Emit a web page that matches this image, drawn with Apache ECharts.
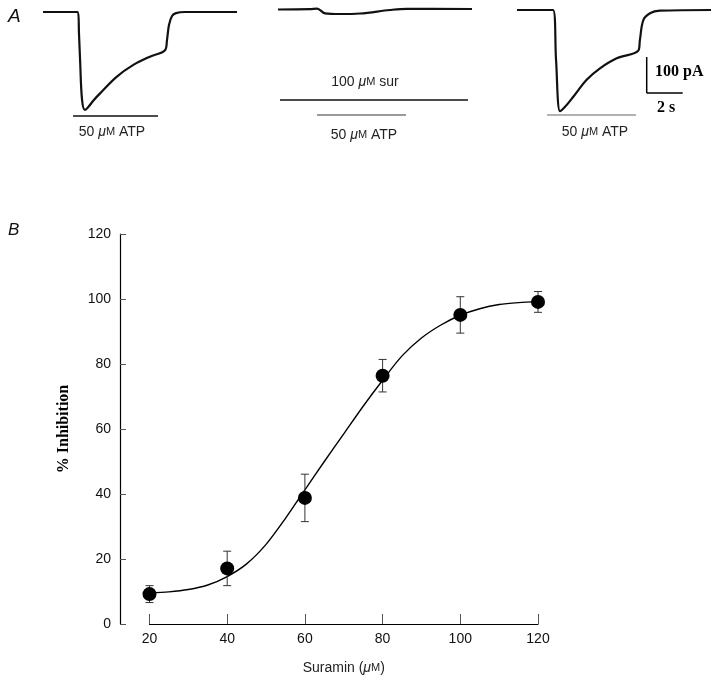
<!DOCTYPE html>
<html><head><meta charset="utf-8">
<script src="https://cdn.jsdelivr.net/npm/echarts@6/dist/echarts.min.js"></script>
<style>html,body{margin:0;padding:0;background:#fff}#c{width:720px;height:687px}</style>
</head><body><div id="c"></div>
<script>
// ---------- Panel A: current traces (time in s, current in pA) ----------
const trace1Time    = [0, 1.94, 2.0, 2.06, 2.17, 2.33, 2.55, 2.78, 3.17, 4.09, 5.02, 5.94, 6.78, 6.89, 7.0, 7.17, 7.39, 7.89, 10.78];
const trace1Current = [0, 0, -60, -133, -244, -272, -262, -247, -226, -180, -147, -124, -106, -78, -36, -11, -3, 0, 0];
const trace2Time    = [0, 1.78, 2.17, 2.61, 3.44, 4.56, 6.22, 7.17, 10.78];
const trace2Current = [0, 1.0, 2.5, -10.6, -12.5, -11.1, -1.4, 2.0, 1.4];
const trace3Time    = [0, 2.0, 2.17, 2.39, 2.67, 3.13, 3.87, 4.61, 5.54, 6.74, 6.83, 7.02, 7.39, 7.94, 10.78];
const trace3Current = [0, 0, -139, -281, -269, -241, -194, -162, -134, -113, -83, -28, -9, -2, 0];
// application periods (s)
const atpPeriod1 = [1.67, 6.39];
const surPeriod2 = [0.11, 10.56];
const atpPeriod2 = [2.17, 7.11];
const atpPeriod3 = [1.67, 6.61];
// scale bar
const scaleTime = 2;      // s
const scaleCurrent = 100; // pA

// ---------- Panel B: concentration-inhibition ----------
const suraminConc    = [20, 40, 60, 80, 100, 120];
const inhibitionMean = [9.2, 17.1, 38.8, 76.4, 95.1, 99.1];
const inhibitionSem  = [2.6, 5.3, 7.3, 5.0, 5.6, 3.2];
const fitConc        = [20, 25, 30, 35, 40, 45, 50, 55, 60, 65, 70, 75, 80, 85, 90, 95, 100, 105, 110, 115, 120];
const fitInhibition  = [9.6, 9.9, 10.6, 12.0, 14.6, 18.5, 24.5, 32.5, 41.3, 50.0, 58.5, 67.0, 75.0, 82.5, 88.0, 92.0, 95.0, 97.0, 98.3, 98.9, 99.2];
const xTickValues = [20, 40, 60, 80, 100, 120];
const yTickValues = [0, 20, 40, 60, 80, 100, 120];

const SANS = "'Liberation Sans', Arial, sans-serif";
const SERIF = "'Liberation Serif', 'Times New Roman', serif";

function zip(a, b) { return a.map((v, i) => [v, b[i]]); }

const traceGrids = [
  {left: 43, top: 4.8, width: 194, height: 115.2},
  {left: 278, top: 2.3, width: 194, height: 115.2},
  {left: 517, top: 2.8, width: 194, height: 115.2}
];
const xAxes = [], yAxes = [], series = [];
traceGrids.forEach((g, i) => {
  xAxes.push({type: 'value', gridIndex: i, min: 0, max: 10.78, show: false});
  yAxes.push({type: 'value', gridIndex: i, min: -300, max: 20, show: false});
});
const traces = [zip(trace1Time, trace1Current), zip(trace2Time, trace2Current), zip(trace3Time, trace3Current)];
traces.forEach((d, i) => {
  series.push({type: 'line', xAxisIndex: i, yAxisIndex: i, data: d, showSymbol: false, smooth: 0.35,
    lineStyle: {color: '#111', width: 2.2}, silent: true, animation: false});
});

// Panel B grid (index 3)
const gridB = {left: 149.5, right: 182, top: 234, bottom: 63};
xAxes.push({
  type: 'value', gridIndex: 3, min: 20, max: 120, interval: 20,
  axisLine: {lineStyle: {color: '#000', width: 1.2}},
  axisTick: {inside: true, length: 10, lineStyle: {color: '#555', width: 1}},
  axisLabel: {fontFamily: SANS, fontSize: 14, color: '#111', margin: 8,
    formatter: v => xTickValues.includes(v) ? String(v) : ''},
  splitLine: {show: false},
  name: '{a|Suramin (}{i|μ}{s|M}{a|)}', nameLocation: 'middle', nameGap: 37,
  nameTextStyle: {rich: {a: {fontFamily: SANS, fontSize: 14, color: '#222'}, i: {fontFamily: SANS, fontSize: 14, fontStyle: 'italic', color: '#222'}, s: {fontFamily: SANS, fontSize: 11, color: '#222'}}}
});
yAxes.push({
  type: 'value', gridIndex: 3, min: 0, max: 120, interval: 20, offset: 29.5,
  axisLine: {show: true, lineStyle: {color: '#000', width: 1.2}},
  axisTick: {show: true, inside: true, length: 6, lineStyle: {color: '#555', width: 1}},
  axisLabel: {fontFamily: SANS, fontSize: 14, color: '#111', margin: 9,
    formatter: v => yTickValues.includes(v) ? String(v) : ''},
  splitLine: {show: false},
  name: '% Inhibition', nameLocation: 'middle', nameGap: 48,
  nameTextStyle: {fontFamily: SERIF, fontWeight: 'bold', fontSize: 16, color: '#000'}
});
series.push({type: 'line', xAxisIndex: 3, yAxisIndex: 3, data: zip(fitConc, fitInhibition), showSymbol: false,
  smooth: 0.3, lineStyle: {color: '#000', width: 1.4}, silent: true, animation: false, z: 2});
series.push({
  type: 'custom', xAxisIndex: 3, yAxisIndex: 3, animation: false, silent: true, z: 3,
  data: suraminConc.map((c, i) => [c, inhibitionMean[i] - inhibitionSem[i], inhibitionMean[i] + inhibitionSem[i]]),
  renderItem: function (params, api) {
    const x = api.value(0), lo = api.value(1), hi = api.value(2);
    const pHi = api.coord([x, hi]), pLo = api.coord([x, lo]);
    const cw = 4;
    const st = {stroke: '#333', lineWidth: 1};
    return {type: 'group', children: [
      {type: 'line', shape: {x1: pHi[0], y1: pHi[1], x2: pLo[0], y2: pLo[1]}, style: st},
      {type: 'line', shape: {x1: pHi[0] - cw, y1: pHi[1], x2: pHi[0] + cw, y2: pHi[1]}, style: st},
      {type: 'line', shape: {x1: pLo[0] - cw, y1: pLo[1], x2: pLo[0] + cw, y2: pLo[1]}, style: st}
    ]};
  }
});
series.push({type: 'scatter', xAxisIndex: 3, yAxisIndex: 3, data: zip(suraminConc, inhibitionMean),
  symbol: 'circle', symbolSize: 14, itemStyle: {color: '#000', opacity: 1}, silent: true, animation: false, z: 4});

const chart = echarts.init(document.getElementById('c'), null, {renderer: 'canvas'});
chart.setOption({
  backgroundColor: '#fff',
  animation: false,
  grid: traceGrids.concat([gridB]),
  xAxis: xAxes, yAxis: yAxes, series: series
});

// ---------- annotations computed through the trace scales ----------
function px(gi, t) { return chart.convertToPixel({gridIndex: gi}, [t, 0])[0]; }
function hbar(gi, period, y, color) {
  return {type: 'line', shape: {x1: px(gi, period[0]), y1: y, x2: px(gi, period[1]), y2: y},
    style: {stroke: color, lineWidth: 1.3}, silent: true};
}
function atpLabel(x, y) {
  return {type: 'text', x: x, y: y, silent: true, style: {
    text: '50 {i|μ}{s|M} ATP', textAlign: 'center', textVerticalAlign: 'middle',
    font: '14px ' + SANS, fill: '#222',
    rich: {i: {fontStyle: 'italic', fontSize: 14, fontFamily: SANS}, s: {fontSize: 11, fontFamily: SANS}}
  }};
}
const p0 = chart.convertToPixel({gridIndex: 2}, [0, 0]);
const pT = chart.convertToPixel({gridIndex: 2}, [scaleTime, -scaleCurrent]);
const sbW = pT[0] - p0[0], sbH = pT[1] - p0[1];
const sbX = 646.7, sbY = 93;

chart.setOption({graphic: [
  {type: 'text', x: 8, y: 7, silent: true, style: {text: 'A', font: 'italic 19px ' + SANS, fill: '#111'}},
  {type: 'text', x: 8, y: 222, silent: true, style: {text: 'B', font: 'italic 17px ' + SANS, fill: '#111'}},
  hbar(0, atpPeriod1, 116, '#111'),
  atpLabel(112, 132),
  hbar(1, surPeriod2, 100, '#111'),
  hbar(1, atpPeriod2, 115, '#777'),
  {type: 'text', x: 365, y: 82, silent: true, style: {
    text: '100 {i|μ}{s|M} sur', textAlign: 'center', textVerticalAlign: 'middle',
    font: '14px ' + SANS, fill: '#222',
    rich: {i: {fontStyle: 'italic', fontSize: 14, fontFamily: SANS}, s: {fontSize: 11, fontFamily: SANS}}
  }},
  atpLabel(364, 135),
  hbar(2, atpPeriod3, 115, '#999'),
  atpLabel(595, 132),
  {type: 'line', shape: {x1: sbX, y1: sbY, x2: sbX, y2: sbY - sbH}, style: {stroke: '#000', lineWidth: 1.5}, silent: true},
  {type: 'line', shape: {x1: sbX, y1: sbY, x2: sbX + sbW, y2: sbY}, style: {stroke: '#000', lineWidth: 1.5}, silent: true},
  {type: 'text', x: 655, y: 72, silent: true, style: {text: '100 pA', font: 'bold 16px ' + SERIF, fill: '#000', textVerticalAlign: 'middle'}},
  {type: 'text', x: 657, y: 108, silent: true, style: {text: '2 s', font: 'bold 16px ' + SERIF, fill: '#000', textVerticalAlign: 'middle'}}
]});
</script>
</body></html>
